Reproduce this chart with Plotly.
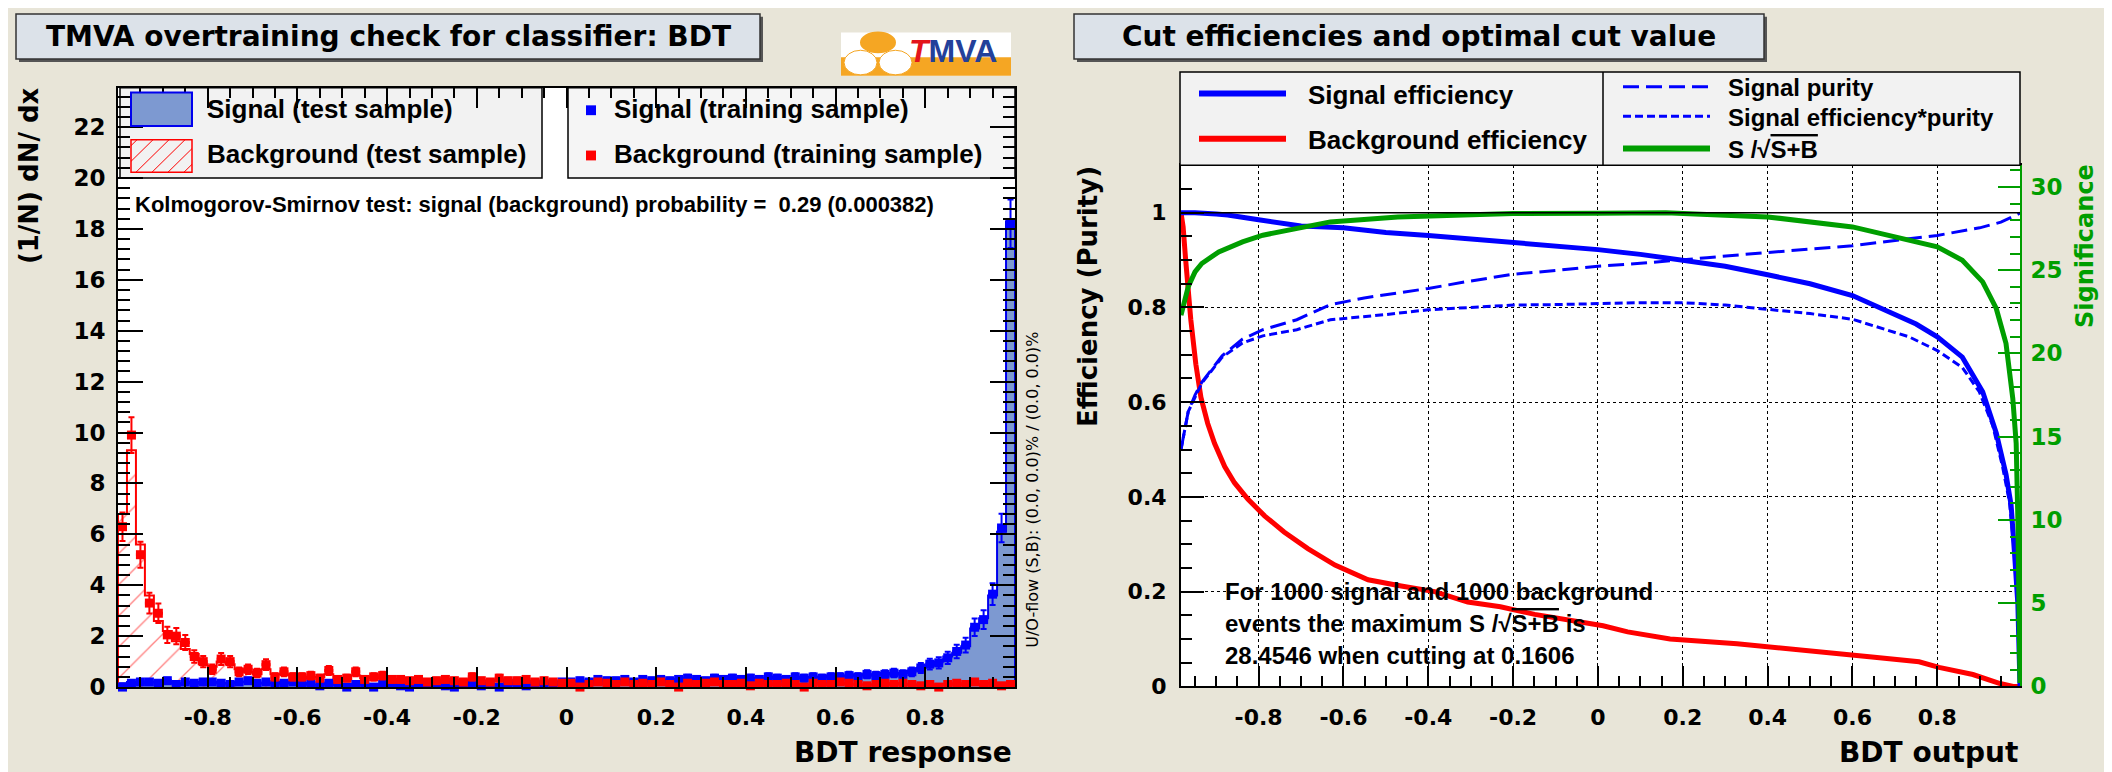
import math
import plotly.graph_objects as go

W, H = 2112, 772

# ---------------- DATA : left panel (100 bins of width 0.02 on [-1, 1]) ----------------
bin_lo = -1.0
bin_w = 0.02
n_events = 1000

sig_test = [
    0.15, 0.2, 0.15, 0.2, 0.2, 0.2, 0.15, 0.15, 0.2, 0.15,
    0.2, 0.15, 0.15, 0.2, 0.2, 0.15, 0.15, 0.15, 0.2, 0.15,
    0.15, 0.1, 0.1, 0.15, 0.1, 0.05, 0.1, 0.1, 0.05, 0.1,
    0.1, 0.1, 0.05, 0.1, 0.1, 0.15, 0.05, 0.05, 0.1, 0.15,
    0.1, 0.1, 0.05, 0.1, 0.15, 0.1, 0.1, 0.15, 0.15, 0.2,
    0.2, 0.25, 0.2, 0.25, 0.3, 0.25, 0.25, 0.3, 0.25, 0.3,
    0.3, 0.3, 0.25, 0.3, 0.35, 0.3, 0.3, 0.35, 0.3, 0.35,
    0.35, 0.35, 0.35, 0.4, 0.35, 0.35, 0.4, 0.4, 0.4, 0.45,
    0.45, 0.45, 0.5, 0.45, 0.5, 0.55, 0.5, 0.55, 0.65, 0.75,
    0.85, 1.0, 1.2, 1.35, 1.6, 2.3, 2.7, 3.6, 6.1, 18.3]

sig_train = [
    0.0, 0.15, 0.2, 0.2, 0.15, 0.25, 0.1, 0.2, 0.15, 0.2,
    0.2, 0.15, 0.1, 0.2, 0.25, 0.15, 0.2, 0.1, 0.15, 0.2,
    0.1, 0.15, 0.05, 0.15, 0.1, 0.0, 0.1, 0.15, 0.0, 0.1,
    0.1, 0.05, 0.0, 0.1, 0.15, 0.1, 0.05, 0.0, 0.1, 0.1,
    0.05, 0.1, 0.0, 0.15, 0.1, 0.05, 0.1, 0.15, 0.1, 0.2,
    0.2, 0.25, 0.2, 0.3, 0.25, 0.25, 0.3, 0.2, 0.3, 0.25,
    0.3, 0.25, 0.3, 0.35, 0.3, 0.25, 0.35, 0.3, 0.35, 0.3,
    0.35, 0.3, 0.4, 0.35, 0.3, 0.4, 0.35, 0.4, 0.35, 0.4,
    0.4, 0.45, 0.4, 0.5, 0.45, 0.5, 0.55, 0.5, 0.6, 0.75,
    0.9, 0.95, 1.15, 1.4, 1.65, 2.35, 2.65, 3.65, 6.25, 18.2]

bkg_test = [
    6.8, 9.3, 5.6, 3.6, 2.6, 2.2, 1.8, 1.5, 1.3, 0.9,
    0.8, 1.0, 0.9, 0.7, 0.6, 0.5, 0.7, 0.5, 0.5, 0.45,
    0.35, 0.4, 0.4, 0.5, 0.35, 0.3, 0.45, 0.35, 0.35, 0.4,
    0.3, 0.25, 0.3, 0.25, 0.25, 0.2, 0.3, 0.2, 0.25, 0.3,
    0.2, 0.25, 0.3, 0.2, 0.2, 0.25, 0.2, 0.2, 0.15, 0.2,
    0.1, 0.15, 0.15, 0.1, 0.2, 0.1, 0.15, 0.15, 0.1, 0.15,
    0.15, 0.1, 0.1, 0.1, 0.15, 0.1, 0.15, 0.1, 0.15, 0.1,
    0.1, 0.1, 0.15, 0.1, 0.1, 0.1, 0.05, 0.1, 0.15, 0.1,
    0.15, 0.1, 0.1, 0.1, 0.1, 0.1, 0.15, 0.1, 0.1, 0.1,
    0.05, 0.1, 0.1, 0.1, 0.15, 0.1, 0.1, 0.15, 0.1, 0.05]

bkg_train = [
    6.3, 9.9, 5.2, 3.3, 2.9, 2.05, 2.0, 1.75, 1.2, 1.0,
    0.7, 1.1, 1.0, 0.6, 0.7, 0.55, 0.88, 0.4, 0.6, 0.4,
    0.4, 0.45, 0.35, 0.65, 0.3, 0.35, 0.6, 0.3, 0.4, 0.45,
    0.3, 0.3, 0.25, 0.3, 0.2, 0.25, 0.3, 0.25, 0.2, 0.4,
    0.25, 0.2, 0.35, 0.25, 0.25, 0.3, 0.2, 0.25, 0.2, 0.15,
    0.15, 0.0, 0.1, 0.2, 0.15, 0.1, 0.2, 0.1, 0.15, 0.1,
    0.2, 0.1, 0.0, 0.15, 0.1, 0.15, 0.2, 0.1, 0.1, 0.15,
    0.05, 0.15, 0.1, 0.1, 0.15, 0.1, 0.0, 0.15, 0.1, 0.1,
    0.2, 0.15, 0.1, 0.05, 0.1, 0.15, 0.1, 0.15, 0.1, 0.05,
    0.1, 0.0, 0.1, 0.15, 0.1, 0.2, 0.1, 0.15, 0.05, 0.1]

# tick labels
x_tick_vals = [-0.8, -0.6, -0.4, -0.2, 0.0, 0.2, 0.4, 0.6, 0.8]
x_tick_text = ["-0.8", "-0.6", "-0.4", "-0.2", "0", "0.2", "0.4", "0.6", "0.8"]
eff_tick_vals = [0.0, 0.2, 0.4, 0.6, 0.8, 1.0]
eff_tick_text = ["0", "0.2", "0.4", "0.6", "0.8", "1"]

# ---------------- DATA : right panel (cut efficiencies) ----------------
sig_eff_x = [-0.983, -0.95, -0.9, -0.873, -0.8, -0.7, -0.6, -0.5, -0.4, -0.3, -0.2, -0.1, 0.0,
             0.1, 0.2, 0.257, 0.3, 0.4, 0.5, 0.6, 0.693, 0.75, 0.8, 0.859, 0.907, 0.939,
             0.962, 0.974, 0.982, 0.99, 0.995]
sig_eff_y = [1.0, 1.0, 0.997, 0.995, 0.985, 0.972, 0.968, 0.958, 0.952, 0.945, 0.937, 0.93, 0.922,
             0.912, 0.9, 0.894, 0.887, 0.869, 0.85, 0.825, 0.789, 0.765, 0.738, 0.695, 0.622, 0.535,
             0.448, 0.383, 0.282, 0.173, 0.0]

bkg_eff_x = [-0.983, -0.978, -0.972, -0.966, -0.96, -0.948, -0.936, -0.92, -0.904, -0.88, -0.857,
             -0.825, -0.786, -0.74, -0.684, -0.62, -0.542, -0.464, -0.385, -0.307, -0.23, -0.149,
             -0.07, 0.012, 0.07, 0.17, 0.328, 0.488, 0.646, 0.757, 0.804, 0.884, 0.948, 0.979, 0.995]
bkg_eff_y = [1.0, 0.97, 0.9, 0.83, 0.775, 0.68, 0.61, 0.555, 0.513, 0.464, 0.43,
             0.395, 0.36, 0.326, 0.291, 0.256, 0.225, 0.212, 0.2, 0.178, 0.168, 0.152,
             0.14, 0.128, 0.115, 0.1, 0.09, 0.077, 0.062, 0.052, 0.04, 0.025, 0.006, 0.0, 0.0]

purity_x = [-0.983, -0.966, -0.95, -0.934, -0.91, -0.886, -0.838, -0.79, -0.71, -0.631, -0.551,
            -0.472, -0.4, -0.312, -0.2, -0.1, 0.0, 0.1, 0.2, 0.257, 0.4, 0.6, 0.733, 0.8, 0.9,
            0.95, 0.995]
purity_y = [0.5, 0.58, 0.615, 0.642, 0.67, 0.698, 0.733, 0.753, 0.774, 0.806, 0.82,
            0.83, 0.84, 0.854, 0.87, 0.878, 0.887, 0.893, 0.9, 0.905, 0.916, 0.93, 0.945, 0.952, 0.968,
            0.98, 0.999]

effpur_x = [-0.983, -0.966, -0.934, -0.886, -0.838, -0.79, -0.71, -0.631, -0.5, -0.4, -0.3, -0.2,
            -0.1, 0.0, 0.1, 0.2, 0.3, 0.4, 0.5, 0.6, 0.733, 0.8, 0.859, 0.899, 0.931, 0.954, 0.97,
            0.982, 0.99, 0.995]
effpur_y = [0.5, 0.58, 0.64, 0.695, 0.725, 0.74, 0.753, 0.774, 0.785, 0.795, 0.8, 0.805,
            0.806, 0.808, 0.81, 0.81, 0.805, 0.796, 0.787, 0.775, 0.738, 0.709, 0.673, 0.622, 0.55, 0.463, 0.39,
            0.282, 0.17, 0.0]

signif_x = [-0.983, -0.975, -0.966, -0.95, -0.934, -0.894, -0.838, -0.79, -0.71, -0.631, -0.472,
            -0.312, -0.2, 0.0, 0.16, 0.257, 0.4, 0.6, 0.733, 0.8, 0.859, 0.907, 0.939, 0.962, 0.978,
            0.986, 0.99, 0.994, 0.995]
signif_y = [22.3, 23.0, 24.0, 24.9, 25.4, 26.1, 26.7, 27.1, 27.5, 27.9, 28.2,
            28.35, 28.4, 28.42, 28.45, 28.35, 28.2, 27.6, 26.8, 26.4, 25.6, 24.3, 22.7, 20.6, 17.3,
            14.6, 10.0, 2.8, 0.2]
signif_max = 28.4546
signif_cut = 0.1606

# ---------------- STYLE ----------------
BEIGE = "#e8e5d8"
TITLE_FILL = "#dce2e9"
LEG_FILL = "#f2f2f2"
SIG_LINE = "#0000ee"
SIG_FILL = "#7d99d1"
RED = "#ff0000"
BLUE = "#0000ff"
GREEN = "#009e00"
DV = "DejaVu Sans"
LIB = "Liberation Sans"


def px(x):
    return x / W


def py(y):
    return 1 - y / H


fig = go.Figure()

# ---------------- left panel traces ----------------
centers = [round(bin_lo + bin_w * (i + 0.5), 4) for i in range(len(sig_test))]


def steps(vals):
    xs = [bin_lo] + [round(bin_lo + bin_w * i, 4) for i in range(len(vals))]
    xs += [round(bin_lo + bin_w * len(vals), 4)] * 2
    ys = [0] + list(vals) + [vals[-1], 0]
    return xs, ys


def errs(vals):
    return [math.sqrt(v / (n_events * bin_w)) for v in vals]


sx, sy = steps(sig_test)
fig.add_trace(go.Scatter(x=sx, y=sy, mode="lines", line=dict(color=SIG_LINE, width=2, shape="hv"),
                         fill="tozeroy", fillcolor=SIG_FILL, xaxis="x", yaxis="y", hoverinfo="skip"))
bx, by = steps(bkg_test)
fig.add_trace(go.Scatter(x=bx, y=by, mode="lines", line=dict(color=RED, width=2, shape="hv"),
                         fill="tozeroy", fillcolor="rgba(0,0,0,0)",
                         fillpattern=dict(shape="/", fgcolor=RED, bgcolor="rgba(0,0,0,0)", size=22, solidity=0.06),
                         xaxis="x", yaxis="y", hoverinfo="skip"))
for vals, col in ((sig_train, BLUE), (bkg_train, RED)):
    fig.add_trace(go.Scatter(
        x=centers, y=vals, mode="markers", cliponaxis=False,
        marker=dict(symbol="square", size=9, color=col, line=dict(width=0)),
        error_y=dict(type="data", array=errs(vals), color=col, thickness=2, width=3),
        error_x=dict(type="constant", value=bin_w / 2, color=col, thickness=3, width=0),
        xaxis="x", yaxis="y", hoverinfo="skip"))

# ---------------- right panel traces ----------------
fig.add_trace(go.Scatter(x=bkg_eff_x, y=bkg_eff_y, mode="lines", line=dict(color=RED, width=5),
                         xaxis="x2", yaxis="y2", hoverinfo="skip"))
fig.add_trace(go.Scatter(x=purity_x, y=purity_y, mode="lines", line=dict(color=BLUE, width=3, dash="16px,7px"),
                         xaxis="x2", yaxis="y2", hoverinfo="skip"))
fig.add_trace(go.Scatter(x=effpur_x, y=effpur_y, mode="lines", line=dict(color=BLUE, width=3, dash="8px,4px"),
                         xaxis="x2", yaxis="y2", hoverinfo="skip"))
fig.add_trace(go.Scatter(x=sig_eff_x, y=sig_eff_y, mode="lines", line=dict(color=BLUE, width=5),
                         xaxis="x2", yaxis="y2", hoverinfo="skip"))
fig.add_trace(go.Scatter(x=signif_x, y=signif_y, mode="lines", line=dict(color=GREEN, width=5),
                         xaxis="x2", yaxis="y3", hoverinfo="skip"))

# ---------------- axes ----------------
tickfont = dict(family=DV, size=22, color="black", weight="bold")
minor_x = dict(ticks="inside", ticklen=10, tickwidth=1.5, tickcolor="black", dtick=0.05, tick0=-1.0, showgrid=False)

fig.update_layout(
    width=W, height=H, margin=dict(l=0, r=0, t=0, b=0),
    paper_bgcolor=BEIGE, plot_bgcolor="white", showlegend=False,
    xaxis=dict(domain=[px(110), px(1007)], range=[-1, 1], anchor="y",
               tickmode="array", tickvals=x_tick_vals, ticktext=x_tick_text,
               ticks="inside", ticklen=20, tickwidth=2, tickcolor="black", minor=minor_x,
               showline=True, linecolor="black", linewidth=2, mirror="allticks",
               showgrid=False, zeroline=False, tickfont=tickfont, ticklabelstandoff=10),
    yaxis=dict(domain=[py(690.7), py(81)], range=[0, 23.55], anchor="x",
               tickmode="linear", tick0=0, dtick=2,
               ticks="inside", ticklen=25, tickwidth=2, tickcolor="black",
               minor=dict(ticks="inside", ticklen=12, tickwidth=1.5, tickcolor="black", dtick=0.4, tick0=0, showgrid=False),
               showline=True, linecolor="black", linewidth=2, mirror="allticks",
               showgrid=False, zeroline=False, tickfont=dict(tickfont, size=23), ticklabelstandoff=6),
    xaxis2=dict(domain=[px(1173), px(2012)], range=[-0.983, 0.995], anchor="y2",
                tickmode="array", tickvals=x_tick_vals, ticktext=x_tick_text,
                ticks="inside", ticklen=20, tickwidth=2, tickcolor="black", minor=minor_x,
                showline=True, linecolor="black", linewidth=2, mirror=True,
                showgrid=True, gridcolor="black", griddash="dot", gridwidth=1.2,
                zeroline=False, tickfont=tickfont, ticklabelstandoff=10),
    yaxis2=dict(domain=[py(690), py(160)], range=[0, 1.1], anchor="x2",
                tickmode="array", tickvals=eff_tick_vals, ticktext=eff_tick_text,
                ticks="inside", ticklen=23, tickwidth=2, tickcolor="black",
                minor=dict(ticks="inside", ticklen=11, tickwidth=1.5, tickcolor="black", dtick=0.05, tick0=0, showgrid=False),
                showline=True, linecolor="black", linewidth=2,
                showgrid=True, gridcolor="black", griddash="dot", gridwidth=1.2,
                zeroline=False, tickfont=tickfont, ticklabelstandoff=8),
    yaxis3=dict(overlaying="y2", side="right", anchor="x2", range=[0, signif_max * 1.1],
                tickmode="linear", tick0=0, dtick=5,
                ticks="inside", ticklen=22, tickwidth=2, tickcolor=GREEN,
                minor=dict(ticks="inside", ticklen=10, tickwidth=1.5, tickcolor=GREEN, dtick=1, tick0=0, showgrid=False),
                showline=True, linecolor=GREEN, linewidth=2,
                showgrid=False, zeroline=False, tickfont=dict(family=DV, size=23, color=GREEN, weight="bold"),
                ticklabelstandoff=4),
)

# ---------------- shapes ----------------
shapes = []


def rect(x0, y0, x1, y1, fill, line="black", lw=1.5, layer="below"):
    shapes.append(dict(type="rect", xref="paper", yref="paper", x0=px(x0), x1=px(x1), y0=py(y1), y1=py(y0),
                       fillcolor=fill, line=dict(color=line, width=lw), layer=layer))


def seg(x0, y0, x1, y1, color, width=1, dash="solid", layer="above"):
    shapes.append(dict(type="line", xref="paper", yref="paper", x0=px(x0), x1=px(x1), y0=py(y0), y1=py(y1),
                       line=dict(color=color, width=width, dash=dash), layer=layer))


def circ(x0, y0, x1, y1, fill, line="rgba(0,0,0,0)", lw=0):
    shapes.append(dict(type="circle", xref="paper", yref="paper", x0=px(x0), x1=px(x1), y0=py(y1), y1=py(y0),
                       fillcolor=fill, line=dict(color=line, width=lw), layer="above"))


# title boxes with shadow
rect(11, 9, 755, 55, "#555555", line="#555555", lw=0)
rect(8, 6, 752, 52, TITLE_FILL, line="#333333", lw=1.5)
rect(1069, 9, 1759, 55, "#555555", line="#555555", lw=0)
rect(1066, 6, 1756, 52, TITLE_FILL, line="#333333", lw=1.5)

# TMVA logo
rect(833, 25, 1003, 69, "white", line="white", lw=0, layer="above")
rect(833, 50, 1003, 69, "#f5a623", line="#f5a623", lw=0, layer="above")
circ(852, 24, 888, 46, "#f5a623")
circ(836, 43, 869, 68, "white", line="#f5a623", lw=1)
circ(871, 43, 904, 68, "white", line="#f5a623", lw=1)

# left panel legends
rect(112, 81, 534, 173, LEG_FILL, line="black", lw=1.5)
rect(560, 81, 1007, 173, "#f5f5f5", line="black", lw=1.5)
rect(123, 86, 184, 120, SIG_FILL, line=SIG_LINE, lw=2, layer="above")
rect(123, 134, 184, 167, "rgba(0,0,0,0)", line=RED, lw=1.5, layer="above")
hx0, hx1, hyt, hyb = 123, 184, 134, 167
hh = hyb - hyt
for d in range(-hh + 6, hx1 - hx0, 16):
    t0 = max(0, -d)
    t1 = min(hh, (hx1 - hx0) - d)
    if t1 > t0:
        seg(hx0 + d + t0, hyb - t0, hx0 + d + t1, hyb - t1, RED, 1)
rect(578, 99, 588, 109, BLUE, line=BLUE, lw=0, layer="above")
rect(578, 145, 588, 155, RED, line=RED, lw=0, layer="above")

# right panel legend
rect(1172, 65, 2012, 160, LEG_FILL, line="black", lw=1.5, layer="above")
seg(1595, 65, 1595, 160, "black", 1.5)
seg(1191, 87, 1278, 87, BLUE, 6)
seg(1191, 133, 1278, 133, RED, 6)
seg(1615, 80, 1702, 80, BLUE, 3, dash="16px,7px")
seg(1615, 110, 1702, 110, BLUE, 3, dash="8px,4px")
seg(1615, 143, 1702, 143, GREEN, 6)

# line at efficiency = 1
shapes.append(dict(type="line", xref="x2 domain", yref="y2", x0=0, x1=1, y0=1, y1=1,
                   line=dict(color="black", width=1.5), layer="above"))

fig.update_layout(shapes=shapes)

# ---------------- annotations ----------------
anns = []


def ann(text, x, y, size, family=LIB, color="black", weight="bold", xanchor="left", yanchor="middle", angle=0):
    if weight == "bold":
        text = "<b>" + text + "</b>"
    anns.append(dict(text=text, x=px(x), y=py(y), xref="paper", yref="paper", showarrow=False,
                     xanchor=xanchor, yanchor=yanchor, textangle=angle,
                     font=dict(family=family, size=size, color=color, weight=weight)))


ann("TMVA overtraining check for classifier: BDT", 380, 29, 28, family=DV, xanchor="center")
ann("Cut efficiencies and optimal cut value", 1411, 29, 28, family=DV, xanchor="center")
ann("<span style='color:#e3141b'><i>T</i></span><span style='color:#23409a'>MVA</span>", 945, 44, 32,
    xanchor="center")

ann("Signal (test sample)", 197, 103, 26)
ann("Background (test sample)", 197, 148, 26)
ann("Signal (training sample)", 604, 103, 26)
ann("Background (training sample)", 604, 148, 26)
ann("Kolmogorov-Smirnov test: signal (background) probability =  0.29 (0.000382)", 125, 200, 22)

ann("(1/N) dN/ dx", 21, 171, 26, family=DV, xanchor="center", angle=-90)
ann("BDT response", 1006, 757, 28, family=DV, xanchor="right")
ann("U/O-flow (S,B): (0.0, 0.0)% / (0.0, 0.0)%", 1025, 490, 16, family=DV, weight="normal",
    xanchor="center", angle=-90)

ann("Signal efficiency", 1298, 88, 26)
ann("Background efficiency", 1298, 134, 26)
ann("Signal purity", 1718, 81, 24)
ann("Signal efficiency*purity", 1718, 111, 24)
ann("S /√<span style='text-decoration:overline'>S+B</span>", 1718, 144, 24)

ann("For 1000 signal and 1000 background", 1215, 593, 24)
ann("events the maximum S /√<span style='text-decoration:overline'>S+B</span> is", 1215, 626, 24)
ann(f"{signif_max} when cutting at {signif_cut}", 1215, 659, 24)

ann("Efficiency (Purity)", 1080, 294, 26, family=DV, xanchor="center", angle=-90)
ann("Significance", 2077, 242, 24, family=DV, color=GREEN, xanchor="center", angle=-90)
ann("BDT output", 2012, 757, 28, family=DV, xanchor="right")

fig.update_layout(annotations=anns)

fig.write_html("out.html", config={"displayModeBar": False})
